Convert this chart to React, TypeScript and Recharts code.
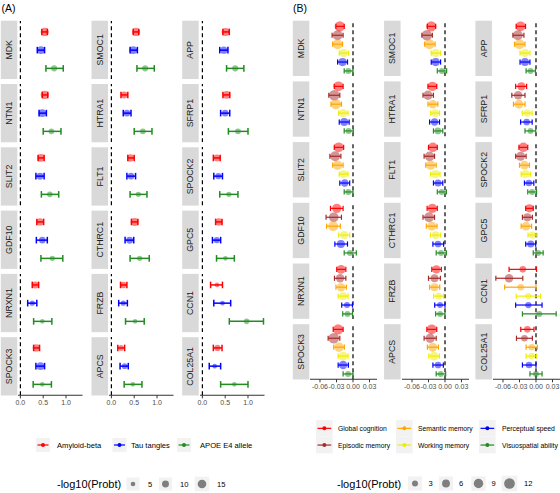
import React from 'react';
import { ScatterChart, Scatter, XAxis, YAxis, ZAxis, ErrorBar, ReferenceLine } from 'recharts';

// Genes in facet order (row-major, 3 columns x 6 rows)
const genes = ['MDK', 'SMOC1', 'APP', 'NTN1', 'HTRA1', 'SFRP1', 'SLIT2', 'FLT1', 'SPOCK2', 'GDF10', 'CTHRC1', 'GPC5', 'NRXN1', 'FRZB', 'CCN1', 'SPOCK3', 'APCS', 'COL25A1'];

// Panel A: [estimate, lower, upper, -log10(Probt)]
const amyloidBeta = [
  [0.535, 0.47, 0.59, 14], [0.54, 0.48, 0.6, 14], [0.51, 0.45, 0.59, 13],
  [0.535, 0.48, 0.6, 14], [0.28, 0.21, 0.36, 10], [0.53, 0.45, 0.6, 12],
  [0.45, 0.39, 0.52, 12], [0.42, 0.36, 0.5, 11], [0.32, 0.24, 0.39, 10],
  [0.43, 0.36, 0.51, 11], [0.51, 0.44, 0.58, 13], [0.36, 0.29, 0.43, 11],
  [0.33, 0.26, 0.4, 10], [0.26, 0.2, 0.34, 9], [0.32, 0.18, 0.44, 4],
  [0.35, 0.29, 0.42, 11], [0.21, 0.14, 0.29, 7], [0.33, 0.24, 0.43, 8],
];
const tauTangles = [
  [0.45, 0.37, 0.53, 12], [0.48, 0.41, 0.57, 12], [0.47, 0.38, 0.56, 11],
  [0.48, 0.41, 0.57, 12], [0.34, 0.26, 0.43, 9], [0.5, 0.4, 0.6, 9],
  [0.43, 0.34, 0.52, 10], [0.43, 0.34, 0.53, 9], [0.35, 0.25, 0.44, 8],
  [0.48, 0.35, 0.59, 9], [0.4, 0.3, 0.49, 10], [0.315, 0.22, 0.4, 8],
  [0.26, 0.16, 0.36, 6], [0.26, 0.16, 0.35, 6], [0.44, 0.25, 0.62, 4],
  [0.44, 0.34, 0.53, 12], [0.29, 0.19, 0.37, 7], [0.27, 0.15, 0.4, 5],
];
const apoeE4Allele = [
  [0.74, 0.56, 0.94, 8], [0.74, 0.56, 0.94, 8], [0.72, 0.53, 0.91, 8],
  [0.68, 0.5, 0.89, 7], [0.69, 0.5, 0.89, 7], [0.78, 0.57, 1.0, 7],
  [0.645, 0.46, 0.84, 7], [0.59, 0.41, 0.78, 6], [0.58, 0.38, 0.78, 6],
  [0.7, 0.45, 0.93, 6], [0.62, 0.41, 0.83, 6], [0.505, 0.31, 0.7, 5],
  [0.48, 0.29, 0.69, 5], [0.52, 0.31, 0.72, 5], [0.97, 0.59, 1.34, 6],
  [0.48, 0.28, 0.68, 5], [0.47, 0.28, 0.67, 5], [0.7, 0.4, 1.0, 5],
];

// Panel B: [estimate, lower, upper, -log10(Probt)]
const globalCognition = [
  [-0.024, -0.031, -0.016, 11], [-0.025, -0.032, -0.017, 11], [-0.028, -0.036, -0.019, 10],
  [-0.0265, -0.034, -0.018, 10], [-0.023, -0.031, -0.015, 9], [-0.0265, -0.037, -0.017, 7],
  [-0.026, -0.034, -0.017, 10], [-0.022, -0.03, -0.014, 9], [-0.023, -0.031, -0.015, 9],
  [-0.0295, -0.041, -0.018, 8], [-0.023, -0.0325, -0.014, 9], [-0.012, -0.0187, -0.005, 6],
  [-0.0217, -0.0295, -0.013, 8], [-0.0157, -0.024, -0.0066, 7], [-0.024, -0.049, 0.001, 2],
  [-0.027, -0.036, -0.018, 11], [-0.024, -0.033, -0.015, 10], [-0.0157, -0.0277, -0.0036, 3],
];
const episodicMemory = [
  [-0.028, -0.038, -0.018, 10], [-0.033, -0.042, -0.023, 11], [-0.033, -0.042, -0.022, 10],
  [-0.034, -0.044, -0.024, 12], [-0.031, -0.04, -0.021, 9], [-0.0325, -0.044, -0.02, 7],
  [-0.0325, -0.042, -0.022, 10], [-0.028, -0.038, -0.019, 9], [-0.028, -0.037, -0.018, 8],
  [-0.035, -0.049, -0.021, 9], [-0.029, -0.04, -0.019, 10], [-0.0157, -0.0247, -0.0066, 6],
  [-0.0235, -0.0337, -0.013, 7], [-0.019, -0.03, -0.0084, 6], [-0.049, -0.073, -0.024, 6],
  [-0.035, -0.0452, -0.024, 12], [-0.027, -0.038, -0.016, 9], [-0.021, -0.0355, -0.0066, 3],
];
const semanticMemory = [
  [-0.028, -0.037, -0.019, 10], [-0.028, -0.037, -0.018, 10], [-0.03, -0.039, -0.02, 10],
  [-0.031, -0.04, -0.021, 11], [-0.022, -0.031, -0.013, 7], [-0.031, -0.041, -0.02, 8],
  [-0.028, -0.037, -0.018, 9], [-0.026, -0.035, -0.016, 9], [-0.021, -0.03, -0.012, 7],
  [-0.036, -0.048, -0.023, 10], [-0.024, -0.034, -0.0145, 8], [-0.018, -0.027, -0.008, 7],
  [-0.0217, -0.031, -0.012, 7], [-0.019, -0.028, -0.0096, 6], [-0.0277, -0.057, 0.0, 2],
  [-0.0253, -0.035, -0.0157, 9], [-0.0223, -0.032, -0.012, 8], [-0.0078, -0.018, 0.0024, 3],
];
const workingMemory = [
  [-0.017, -0.025, -0.008, 6], [-0.017, -0.025, -0.008, 6], [-0.02, -0.029, -0.011, 6],
  [-0.018, -0.026, -0.009, 6], [-0.018, -0.026, -0.01, 6], [-0.016, -0.025, -0.007, 5],
  [-0.017, -0.025, -0.009, 6], [-0.0175, -0.026, -0.009, 6], [-0.019, -0.027, -0.01, 6],
  [-0.016, -0.026, -0.006, 5], [-0.017, -0.0265, -0.008, 6], [-0.0066, -0.0145, 0.002, 4],
  [-0.018, -0.027, -0.009, 6], [-0.0114, -0.0205, -0.0024, 4], [-0.0139, -0.036, 0.0084, 1.5],
  [-0.018, -0.027, -0.009, 8], [-0.02, -0.0295, -0.0102, 8], [-0.0078, -0.018, 0.0012, 3],
];
const perceptualSpeed = [
  [-0.019, -0.028, -0.01, 6], [-0.017, -0.025, -0.008, 6], [-0.02, -0.029, -0.011, 6],
  [-0.016, -0.025, -0.007, 6], [-0.019, -0.028, -0.01, 5], [-0.017, -0.028, -0.007, 4],
  [-0.015, -0.024, -0.006, 5], [-0.0127, -0.021, -0.004, 4], [-0.013, -0.021, -0.004, 3],
  [-0.022, -0.033, -0.01, 5], [-0.0127, -0.022, -0.0025, 4], [-0.0096, -0.0187, -0.0006, 4],
  [-0.011, -0.0205, -0.001, 3], [-0.009, -0.0187, 0.0, 3], [-0.0139, -0.037, 0.011, 1.5],
  [-0.018, -0.027, -0.0084, 7], [-0.0127, -0.022, -0.003, 4], [-0.0127, -0.0247, 0.0, 3],
];
const visuospatialAbility = [
  [-0.0085, -0.016, 0.0, 2], [-0.0055, -0.014, 0.003, 2], [-0.01, -0.018, -0.001, 2.5],
  [-0.008, -0.016, 0.0005, 2.5], [-0.013, -0.021, -0.004, 4], [-0.01, -0.02, -0.0005, 3],
  [-0.0085, -0.016, 0.0, 3], [-0.006, -0.014, 0.0025, 2], [-0.0072, -0.015, 0.001, 2],
  [-0.0055, -0.016, 0.006, 1], [-0.0072, -0.016, 0.0025, 3], [0.004, -0.005, 0.013, 2],
  [-0.01, -0.0187, -0.001, 3], [-0.009, -0.017, 0.0, 3], [0.006, -0.0247, 0.0367, 1],
  [-0.009, -0.018, 0.0, 3], [-0.0078, -0.016, 0.0012, 3], [0.0, -0.011, 0.011, 2],
];

const ticksA = [0, 0.5, 1.0];
const ticksB = [-0.06, -0.03, 0, 0.03];
const sizeBreaksA = [5, 10, 15];
const sizeBreaksB = [3, 6, 9, 12];

const seriesA = [
  { name: 'Amyloid-beta', color: '#FF0000', values: amyloidBeta },
  { name: 'Tau tangles', color: '#0000FF', values: tauTangles },
  { name: 'APOE E4 allele', color: '#228B22', values: apoeE4Allele },
];
const seriesB = [
  { name: 'Global cognition', color: '#FF0000', values: globalCognition },
  { name: 'Episodic memory', color: '#A52A2A', values: episodicMemory },
  { name: 'Semantic memory', color: '#FFA500', values: semanticMemory },
  { name: 'Working memory', color: '#EEEE00', values: workingMemory },
  { name: 'Perceptual speed', color: '#0000FF', values: perceptualSpeed },
  { name: 'Visuospatial ability', color: '#228B22', values: visuospatialAbility },
];

const FONT = 'Liberation Sans, Arial, Helvetica, sans-serif';

const cfgA = {
  colLeft: [18.3, 109.0, 199.7], width: 64.5, rowTop: 20.7, rowPitch: 63.3, height: 58.3,
  domain: [-0.0526, 1.362], ticks: ticksA, decimals: 1, series: seriesA,
  capHalf: 3.3, barWidth: 1.5, zDomain: [5, 15], zRange: [17, 59], axisH: 16,
};
const cfgB = {
  colLeft: [310.3, 401.6, 492.9], width: 67, rowTop: 20.7, rowPitch: 60.7, height: 55.3,
  domain: [-0.07818, 0.04364], ticks: ticksB, decimals: 2, series: seriesB,
  capHalf: 2.6, barWidth: 1.2, zDomain: [3, 12], zRange: [28.3, 90], axisH: 16,
};

const PAD = 10;

function radiusFor(v: number, cfg: any) {
  const [d0, d1] = cfg.zDomain;
  const [r0, r1] = cfg.zRange;
  const area = r0 + ((v - d0) / (d1 - d0)) * (r1 - r0);
  return Math.sqrt(Math.max(area, 0) / Math.PI);
}

function Panel({ cfg, gi }: { cfg: any; gi: number }) {
  const col = gi % 3;
  const row = Math.floor(gi / 3);
  const bottom = row === 5;
  const left = cfg.colLeft[col];
  const top = cfg.rowTop + row * cfg.rowPitch;
  const n = cfg.series.length;
  const axisH = bottom ? cfg.axisH : 0;
  return (
    <div style={{ position: 'absolute', left: left - PAD, top }}>
      <ScatterChart width={cfg.width + 2 * PAD} height={cfg.height + axisH} margin={{ top: 0, right: PAD, bottom: 0, left: PAD }}>
        <XAxis
          type="number"
          dataKey="x"
          domain={cfg.domain}
          allowDataOverflow
          ticks={cfg.ticks}
          interval={0}
          tickFormatter={(v: number) => v.toFixed(cfg.decimals)}
          hide={!bottom}
          height={axisH || 1}
          axisLine={{ stroke: '#333333', strokeWidth: 1.1 }}
          tickLine={{ stroke: '#333333', strokeWidth: 1 }}
          tickSize={3}
          tickMargin={1.5}
          tick={{ fontSize: 7, fill: '#4D4D4D', fontFamily: FONT }}
        />
        <YAxis type="number" dataKey="y" domain={[0.4, n + 0.6]} reversed hide allowDataOverflow />
        <ZAxis type="number" dataKey="p" domain={cfg.zDomain} range={cfg.zRange} />
        <ReferenceLine x={0} stroke="#000000" strokeWidth={1.2} strokeDasharray="4 3" />
        {cfg.series.map((s: any, i: number) => {
          const [est, lo, hi, p] = s.values[gi];
          const data = [{ x: est, y: i + 1, err: [est - lo, hi - est], p }];
          return (
            <Scatter key={s.name} data={data} fill={s.color} fillOpacity={0.5} isAnimationActive={false}>
              <ErrorBar dataKey="err" direction="x" width={cfg.capHalf} stroke={s.color} strokeWidth={cfg.barWidth} />
            </Scatter>
          );
        })}
      </ScatterChart>
    </div>
  );
}

function Strips({ cfg }: { cfg: any }) {
  return (
    <>
      {genes.map((g, gi) => {
        const col = gi % 3;
        const row = Math.floor(gi / 3);
        const x = cfg.colLeft[col] - 17.5;
        const y = cfg.rowTop + row * cfg.rowPitch;
        const cx = x + 8.25;
        const cy = y + cfg.height / 2;
        return (
          <g key={g}>
            <rect x={x} y={y} width={16.5} height={cfg.height} fill="#D9D9D9" />
            <text x={cx} y={cy} transform={`rotate(-90 ${cx} ${cy})`} textAnchor="middle" dominantBaseline="central" fontSize={8.8} fill="#1A1A1A" fontFamily={FONT}>{g}</text>
          </g>
        );
      })}
    </>
  );
}

function ColorKey({ x, y, color, size }: { x: number; y: number; color: string; size: number }) {
  return (
    <g>
      <rect x={x} y={y} width={size} height={size} fill="#F2F2F2" />
      <line x1={x + 1.5} x2={x + size - 1.5} y1={y + size / 2} y2={y + size / 2} stroke={color} strokeWidth={1.2} />
      <circle cx={x + size / 2} cy={y + size / 2} r={2} fill={color} />
    </g>
  );
}

export default function App() {
  const legendAItems = [
    { x: 36, tx: 57 },
    { x: 112.5, tx: 131 },
    { x: 177, tx: 200 },
  ];
  const legendBCols = [
    { x: 316, tx: 338 },
    { x: 396, tx: 418 },
    { x: 479, tx: 502 },
  ];
  const sizeAPos = [{ cx: 133, tx: 148 }, { cx: 165.5, tx: 180 }, { cx: 202, tx: 217 }];
  const sizeBPos = [{ cx: 415, tx: 428.5 }, { cx: 446, tx: 459 }, { cx: 478.5, tx: 491.5 }, { cx: 509.5, tx: 524 }];
  return (
    <div style={{ position: 'absolute', left: 0, top: 0, width: 560, height: 493, background: '#FFFFFF', overflow: 'hidden' }}>
      <svg width={560} height={493} style={{ position: 'absolute', left: 0, top: 0 }}>
        <text x={1.5} y={12} fontSize={10.5} fontFamily={FONT} fill="#000">(A)</text>
        <text x={293} y={12} fontSize={10.5} fontFamily={FONT} fill="#000">(B)</text>
        <Strips cfg={cfgA} />
        <Strips cfg={cfgB} />
        {/* Legend A: colours */}
        {seriesA.map((s, i) => (
          <ColorKey key={s.name} x={legendAItems[i].x} y={438} color={s.color} size={14} />
        ))}
        {seriesA.map((s, i) => (
          <text key={s.name} x={legendAItems[i].tx} y={447.8} fontSize={7.6} fontFamily={FONT} fill="#000">{s.name}</text>
        ))}
        {/* Legend A: size */}
        <text x={57} y={488} fontSize={11} fontFamily={FONT} fill="#000">-log10(Probt)</text>
        {sizeBreaksA.map((v, i) => {
          const r = radiusFor(v, cfgA);
          const bs = Math.max(13, 2 * r + 6);
          return (
            <g key={v}>
              <rect x={sizeAPos[i].cx - bs / 2} y={484 - bs / 2} width={bs} height={bs} fill="#F2F2F2" />
              <circle cx={sizeAPos[i].cx} cy={484} r={r} fill="#7F7F7F" />
              <text x={sizeAPos[i].tx} y={486.8} fontSize={7.6} fontFamily={FONT} fill="#000">{v}</text>
            </g>
          );
        })}
        {/* Legend B: colours */}
        {seriesB.map((s, i) => {
          const c = legendBCols[Math.floor(i / 2)];
          const y = 420 + (i % 2) * 16.7;
          return <ColorKey key={s.name} x={c.x} y={y} color={s.color} size={16.7} />;
        })}
        {seriesB.map((s, i) => {
          const c = legendBCols[Math.floor(i / 2)];
          const y = 420 + (i % 2) * 16.7;
          return <text key={s.name} x={c.tx} y={y + 10.8} fontSize={6.8} fontFamily={FONT} fill="#000">{s.name}</text>;
        })}
        {/* Legend B: size */}
        <text x={337} y={487.5} fontSize={11} fontFamily={FONT} fill="#000">-log10(Probt)</text>
        {sizeBreaksB.map((v, i) => {
          const r = radiusFor(v, cfgB);
          const bs = Math.max(14, 2 * r + 5);
          return (
            <g key={v}>
              <rect x={sizeBPos[i].cx - bs / 2} y={483.5 - bs / 2} width={bs} height={bs} fill="#F2F2F2" />
              <circle cx={sizeBPos[i].cx} cy={483.5} r={r} fill="#7F7F7F" />
              <text x={sizeBPos[i].tx} y={486.3} fontSize={7.6} fontFamily={FONT} fill="#000">{v}</text>
            </g>
          );
        })}
      </svg>
      {genes.map((g, gi) => <Panel key={'A' + g} cfg={cfgA} gi={gi} />)}
      {genes.map((g, gi) => <Panel key={'B' + g} cfg={cfgB} gi={gi} />)}
    </div>
  );
}
